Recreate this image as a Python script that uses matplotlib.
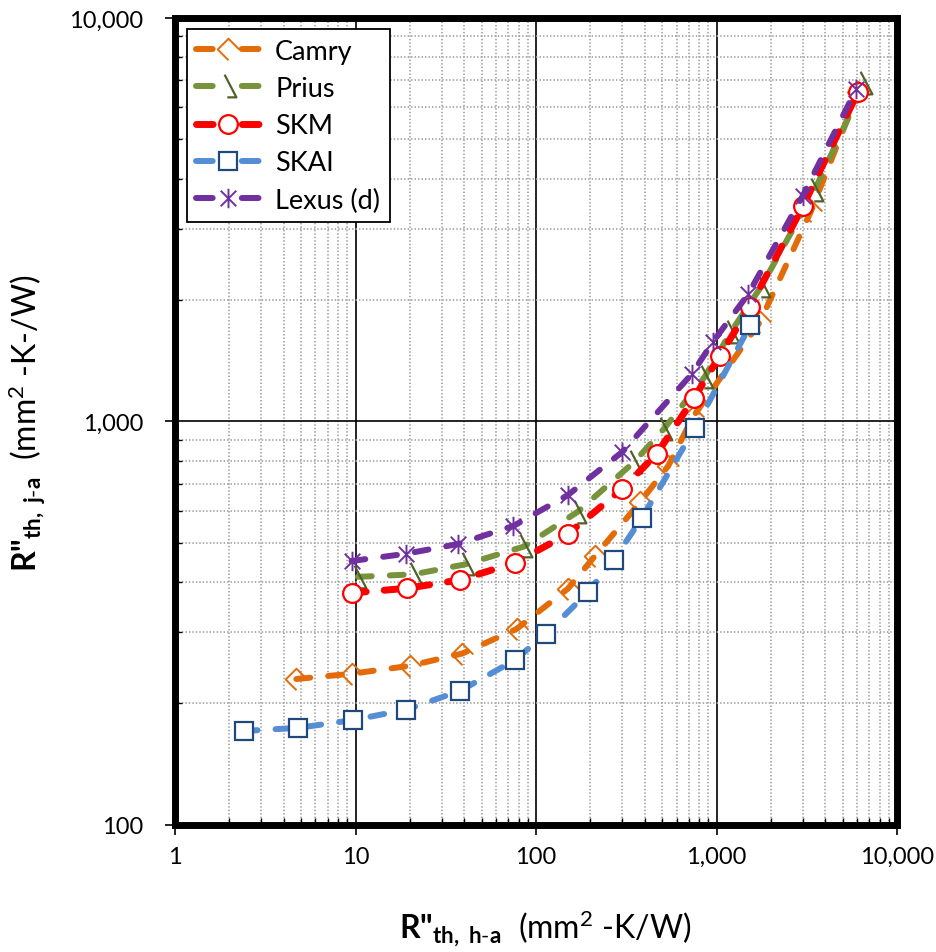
import matplotlib
matplotlib.use('Agg')
import matplotlib.pyplot as plt
from matplotlib.path import Path
from matplotlib.lines import Line2D
from matplotlib.ticker import FixedLocator, FuncFormatter, NullFormatter, LogLocator

plt.rcParams['font.family'] = ['Lato', 'DejaVu Sans']
plt.rcParams['mathtext.fontset'] = 'custom'
plt.rcParams['mathtext.rm'] = 'Lato'
plt.rcParams['mathtext.bf'] = 'Lato:bold'
plt.rcParams['mathtext.it'] = 'Lato:italic'
plt.rcParams['lines.scale_dashes'] = False

# values: x = R''th,h-a, y = R''th,j-a (mm2-K/W)
x_camry = [4.7, 9.5, 20, 39, 78, 150, 212, 377, 540, 740, 1740, 3340, 6100]
y_camry = [230, 237, 248, 266, 306, 385, 464, 631, 776, 1026, 1765, 3324, 6560]

x_prius = [10.3, 21, 41, 86, 170, 350, 510, 860, 1200, 1780, 3500, 6600]
y_prius = [412, 418, 443, 490, 597, 794, 958, 1290, 1667, 2170, 3750, 6900]

x_skm = [9.6, 19.4, 38, 76, 150, 300, 465, 750, 1040, 1530, 3015, 6080]
y_skm = [376, 386, 405, 446, 526, 680, 830, 1143, 1453, 1922, 3420, 6560]

x_skai = [2.4, 4.8, 9.7, 19, 38, 76, 113, 194, 270, 386, 760, 1540]
y_skai = [171, 174, 182, 193, 215, 256, 297, 378, 454, 577, 964, 1734]

x_lexus = [9.5, 19, 37, 75, 150, 300, 730, 955, 1500, 3000, 5950]
y_lexus = [451, 470, 497, 551, 657, 840, 1312, 1575, 2070, 3620, 6670]

labels = ['Camry', 'Prius', 'SKM', 'SKAI', 'Lexus (d)']

# excel draws some markers only partly, so use open paths
camry_mark = Path([(1, 0), (0, 1), (-1, 0), (0, -1)],
                  [Path.MOVETO, Path.LINETO, Path.LINETO, Path.LINETO])
prius_mark = Path([(-0.33, 1), (0.67, -0.92), (-0.1, -0.92)],
                  [Path.MOVETO, Path.LINETO, Path.LINETO])
lexus_mark = Path([(0, -1), (0, 1), (-0.8, -0.8), (0.8, 0.8), (-0.8, 0.8), (0.8, -0.8)],
                  [Path.MOVETO, Path.LINETO, Path.MOVETO, Path.LINETO, Path.MOVETO, Path.LINETO])

styles = [
    dict(color='#E36C09', marker=camry_mark, ms=15.5, mec='#E36C09', mfc='none', mew=1.4, lw=4.3),
    dict(color='#77933C', marker=prius_mark, ms=17, mec='#4F6228', mfc='none', mew=1.6, lw=4.3),
    dict(color='#FF0000', marker='o', ms=13.5, mec='#FF0000', mfc='white', mew=1.6, lw=5),
    dict(color='#558ED5', marker='s', ms=12.5, mec='#1F497D', mfc='white', mew=1.6, lw=4.3),
    dict(color='#7030A0', marker=lexus_mark, ms=14, mec='#7030A0', mfc='none', mew=1.4, lw=4.3),
]

xs = [x_camry, x_prius, x_skm, x_skai, x_lexus]
ys = [y_camry, y_prius, y_skm, y_skai, y_lexus]

fig = plt.figure(figsize=(9.36, 9.53), dpi=100)
ax = fig.add_axes([0.187, 0.1333, 0.7714, 0.8468])

for x, y, st in zip(xs, ys, styles):
    ax.plot(x, y, dashes=(10, 13), dash_capstyle='round', zorder=3, **st)

ax.set_xscale('log')
ax.set_yscale('log')
ax.set_xlim(1, 10000)
ax.set_ylim(100, 10000)

ax.xaxis.set_major_locator(FixedLocator([1, 10, 100, 1000, 10000]))
ax.yaxis.set_major_locator(FixedLocator([100, 1000, 10000]))
ax.xaxis.set_minor_locator(LogLocator(base=10, subs=range(2, 10)))
ax.yaxis.set_minor_locator(LogLocator(base=10, subs=range(2, 10)))
fmt = FuncFormatter(lambda v, p: f'{int(round(v)):,}')
ax.xaxis.set_major_formatter(fmt)
ax.yaxis.set_major_formatter(fmt)
ax.xaxis.set_minor_formatter(NullFormatter())
ax.yaxis.set_minor_formatter(NullFormatter())

ax.set_axisbelow(True)
ax.grid(which='major', color='black', lw=1.2, ls='-')
ax.grid(which='minor', color='#A6A6A6', lw=1.3, ls=(0, (1, 1.5)))

for s in ax.spines.values():
    s.set_linewidth(5)
    s.set_color('black')

ax.tick_params(which='major', direction='out', length=7, width=1.2, labelsize=17)
ax.tick_params(axis='x', which='major', pad=8)
ax.tick_params(axis='y', which='major', pad=16)
ax.tick_params(which='minor', direction='in', length=5, width=1)

# legend with symmetric dash pieces around the marker
handles = []
for st in styles:
    handles.append(Line2D([], [], dashes=(12, 21), dash_capstyle='round', **st))
leg = ax.legend(handles, labels, loc='upper left', bbox_to_anchor=(0.0166, 0.986),
                borderaxespad=0, fontsize=19.5, handlelength=2.35, handletextpad=0.55,
                labelspacing=0.45, borderpad=0.35, fancybox=False, framealpha=1,
                edgecolor='black')
leg.get_frame().set_linewidth(1.3)

# plain part (R") takes the bold weight, math part sets its own fonts
fig.text(0.583, 0.026,
         'R"' + r'$_{\mathbf{th,\ h\text{-}a}}\ \ \mathrm{(mm^{2}\ \text{-}K/W)}$',
         ha='center', va='center', fontsize=23, fontweight='bold')
fig.text(0.030, 0.556,
         'R"' + r'$_{\mathbf{th,\ j\text{-}a}}\ \ \mathrm{(mm^{2}\ \text{-}K\text{-}/W)}$',
         ha='center', va='center', rotation=90, fontsize=23, fontweight='bold')

fig.savefig('out.png', dpi=100)
